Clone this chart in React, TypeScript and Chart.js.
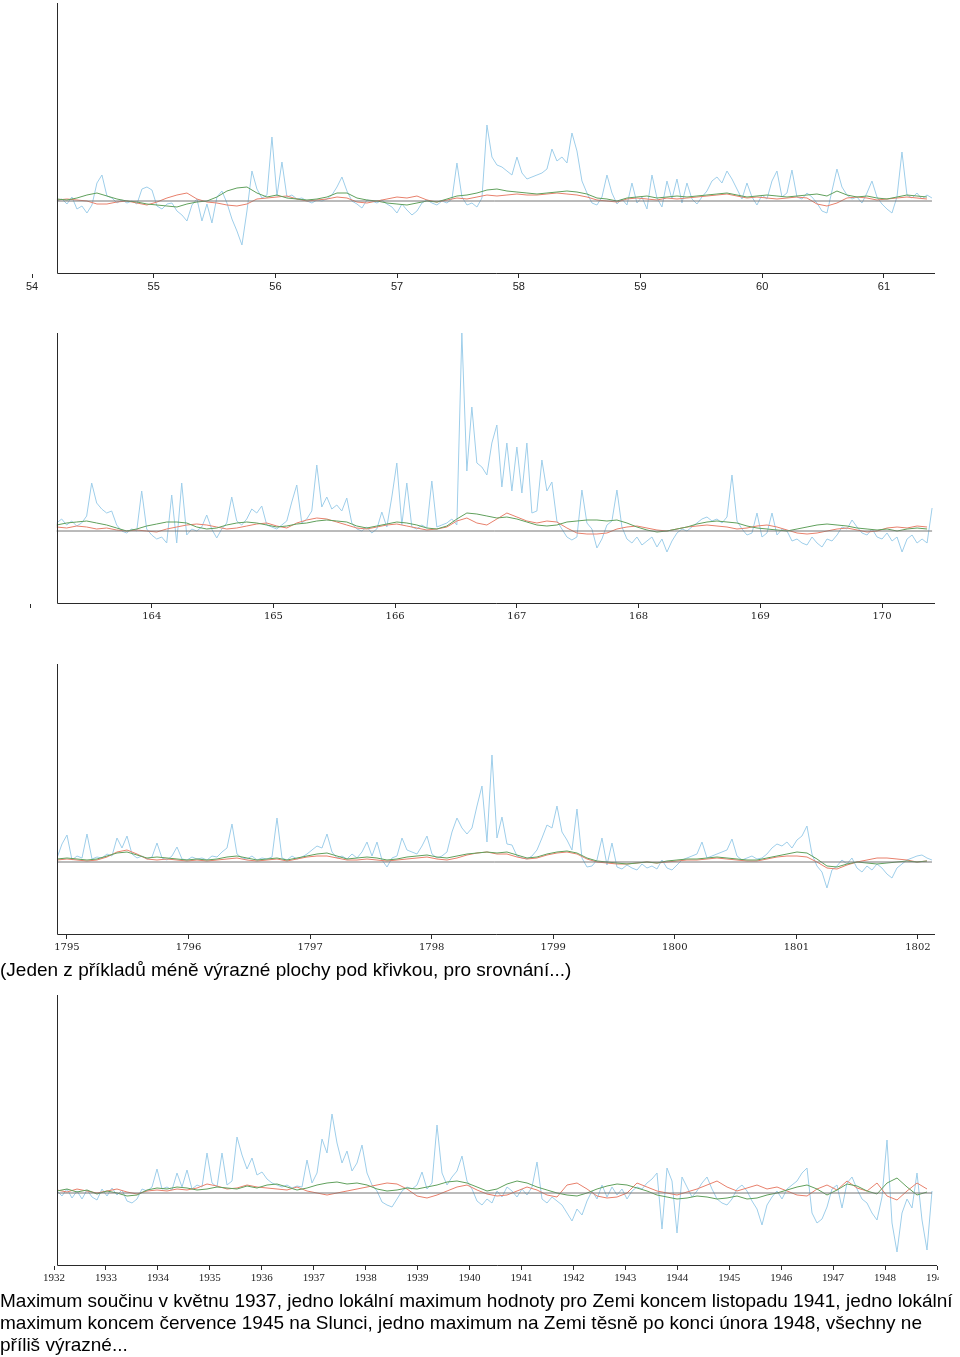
import React, { useEffect, useRef } from "react";
import { Chart, registerables } from "chart.js";

Chart.register(...registerables);

// ---------- Panel 1 (x axis 54 … 61) ----------
const P1_TICKS = [54, 55, 56, 57, 58, 59, 60, 61];
const P1_SPAN = [54.205, 61.395];
const P1_SMOOTH_SPAN = [54.205, 61.354];
const P1_BLUE = [
  0, 2, -3, 4, -8, -5, -12, -4, 18, 26,
  5, 3, -2, 1, -2, 0, -3, 12, 14, 11,
  -5, -8, -3, -2, -10, -14, -20, -4, 2, -20,
  -3, -22, 4, 10, -2, -18, -30, -44, -10, 30,
  12, 3, 6, 64, 5, 39, 4, 6, 2, 3,
  0, -2, 1, 0, 2, 6, 14, 24, 10, 0,
  -3, -7, 1, 0, -2, 1, -3, -6, -12, -3,
  -9, -14, -10, -2, 1, -2, -4, 0, -2, 2,
  38, 4, -4, -2, -6, 3, 76, 44, 36, 34,
  30, 26, 44, 28, 22, 24, 26, 28, 32, 52,
  40, 44, 38, 68, 50, 20, 8, -2, -4, 4,
  26, 8, -3, 2, -4, 18, -2, 4, -8, 26,
  3, -6, 20, 2, 22, -2, 18, 2, -3, 4,
  10, 20, 24, 18, 30, 22, 12, 2, 18, 4,
  -4, 6, 2, 20, 30, 4, 8, 31, 4, 2,
  8, 4, -2, -10, -12, 10, 32, 14, 6, 2,
  4, -2, 8, 20, 4, -3, -8, -12, 4, 49,
  6, 3, 8, 2, 6, 3,
];
const P1_GREEN = [
  2, 1, 3, 6, 8, 5, 2, 0, -1, -3,
  -4, -5, -6, -3, -1, 0, 4, 10, 13, 14,
  8, 4, 6, 3, 2, 1, 2, 4, 8, 8,
  3, 1, 0, -2, -3, -4, -2, 0, -1, 2,
  5, 6, 8, 11, 12, 10, 9, 8, 7, 8,
  9, 10, 9, 7, 3, 2, 0, 3, 4, 5,
  3, 4, 5, 4, 5, 6, 7, 8, 6, 4,
  5, 6, 5, 4, 5, 6, 7, 5, 10, 6,
  4, 5, 3, 2, 4, 6, 5, 4,
];
const P1_RED = [
  1, 2, 1, 0, -3, -3, -1, 0, -2, -4,
  -1, 3, 6, 8, 2, -1, -2, -4, -5, -3,
  2, 3, 4, 5, 2, 0, 1, 2, 4, 3,
  -1, -2, 0, 2, 4, 3, 5, 1, -1, 1,
  3, 2, 4, 6, 5, 6, 7, 6, 6, 7,
  8, 7, 6, 4, 1, 0, -1, 2, 3, 2,
  1, 3, 2, 3, 4, 5, 6, 7, 5, 3,
  4, 3, 2, 3, 4, 3, -3, -5, -2, 3,
  4, 3, 1, 2, 3, 4, 3, 2,
];

// ---------- Panel 2 (x axis 163 … 170) ----------
const P2_TICKS = [163, 164, 165, 166, 167, 168, 169, 170];
const P2_HIDDEN = [163];
const P2_SPAN = [163.219, 170.411];
const P2_SMOOTH_SPAN = [163.219, 170.37];
const P2_BLUE = [
  8, 12, 6, 10, 5, 8, 15, 48, 28, 22,
  18, 20, 6, 0, -2, 2, 0, 40, 2, -4,
  -8, -6, -12, 36, -12, 48, -4, 2, 0, 4,
  16, 2, -7, 2, 8, 34, 10, 6, 12, 22,
  18, 25, 6, 4, 2, 6, 10, 29, 46, 8,
  12, 20, 66, 24, 34, 22, 26, 20, 33, 8,
  2, 0, 4, -2, 2, 19, 4, 34, 68, 6,
  48, 4, 2, 6, 3, 50, 4, 6, 8, 12,
  6, 198, 60, 124, 68, 64, 56, 88, 106, 44,
  88, 40, 84, 38, 88, 18, 20, 71, 40, 49,
  10, 2, -6, -9, -6, 41, 8, 2, -17, -8,
  6, 10, 41, 4, -8, -12, -6, -14, -10, -6,
  -16, -8, -21, -10, -2, 2, 0, 4, 8, 12,
  14, 10, 12, 8, 14, 56, 10, 2, -4, -2,
  18, -6, -2, 18, -4, 2, 0, -10, -8, -12,
  -14, -6, -12, -16, -8, -10, -4, 4, 2, 11,
  4, -2, -4, 2, -6, -8, -2, -10, -6, -21,
  -8, -4, -12, -8, -12, 23,
];
const P2_GREEN = [
  6, 8, 9, 10, 8, 6, 3, 0, 2, 5,
  7, 9, 9, 8, 4, 2, 3, 6, 8, 9,
  8, 6, 4, 5, 7, 8, 10, 11, 10, 9,
  5, 3, 5, 7, 9, 8, 6, 3, 2, 5,
  12, 18, 17, 15, 13, 14, 12, 9, 6, 5,
  6, 9, 10, 11, 11, 10, 11, 8, 4, 1,
  -1, 0, 2, 4, 7, 9, 10, 9, 8, 5,
  3, 2, 1, 0, 2, 4, 6, 7, 6, 5,
  3, 2, 1, 2, 0, 2, 3, 2,
];
const P2_RED = [
  4, 3, 5, 4, 2, 3, 1, 0, 1, 0,
  -1, 2, 4, 6, 7, 6, 4, 2, 3, 5,
  7, 8, 5, 3, 8, 11, 13, 12, 9, 6,
  3, 2, 4, 6, 7, 5, 3, 1, 2, 4,
  10, 13, 8, 6, 12, 18, 14, 10, 8, 10,
  9, 3, -2, -3, -3, -2, 2, 4, 5, 3,
  1, 0, 2, 4, 5, 6, 5, 4, 2, 3,
  5, 6, 4, 1, -2, -3, -2, 0, 2, 3,
  1, -1, 0, 3, 4, 3, 5, 4,
];

// ---------- Panel 3 (x axis 1795 … 1802) ----------
const P3_TICKS = [1795, 1796, 1797, 1798, 1799, 1800, 1801, 1802];
const P3_SPAN = [1794.918, 1802.115];
const P3_SMOOTH_SPAN = [1794.918, 1802.074];
const P3_BLUE = [
  4, 18, 27, 2, 6, 4, 28, 3, 5, 4,
  8, 6, 24, 14, 26, 8, 4, 6, 3, 5,
  19, 4, 2, 6, 15, 3, 2, 5, 3, 4,
  2, 6, 5, 10, 14, 38, 8, 4, 3, 6,
  2, 4, 3, 5, 44, 4, 2, 6, 3, 5,
  8, 12, 16, 14, 28, 10, 4, 6, 3, 8,
  4, 10, 20, 6, 20, 2, -5, 4, 6, 24,
  12, 10, 8, 16, 26, 8, 4, 6, 10, 30,
  44, 34, 28, 34, 56, 76, 20, 107, 24, 45,
  18, 17, 6, 4, 3, 6, 12, 24, 37, 34,
  56, 30, 22, 12, 53, 4, -5, -4, 2, 24,
  -3, 19, -5, -7, -3, -6, -8, -2, -6, -4,
  -7, 2, -6, -8, -3, 2, 4, 6, 8, 20,
  4, 6, 8, 10, 12, 23, 6, 2, 4, 6,
  3, 4, 8, 14, 18, 16, 20, 14, 22, 26,
  36, 8, -4, -10, -26, -8, -4, 2, -2, 4,
  -6, -10, -4, -8, -2, -6, -12, -16, -6, -2,
  2, 4, 6, 7, 4, 2,
];
const P3_GREEN = [
  3, 4, 3, 2, 3, 6, 9, 10, 7, 4,
  5, 4, 3, 2, 3, 2, 3, 5, 6, 4,
  2, 3, 4, 2, 4, 6, 8, 9, 6, 3,
  4, 5, 4, 2, 3, 5, 6, 7, 5, 4,
  6, 8, 9, 10, 9, 10, 7, 4, 5, 8,
  10, 11, 9, 4, 1, 0, -1, -2, -1, 0,
  -1, 1, 2, 3, 3, 4, 5, 4, 3, 2,
  2, 4, 6, 8, 10, 9, 3, -4, -5, -2,
  0, -1, -2, -1, 0, 1, 0, 1,
];
const P3_RED = [
  2, 3, 2, 1, 2, 5, 10, 12, 8, 3,
  2, 3, 2, 1, 2, 1, 2, 3, 4, 2,
  1, 2, 3, 1, 3, 5, 6, 6, 4, 2,
  2, 3, 2, 1, 2, 3, 4, 5, 3, 2,
  4, 7, 9, 10, 8, 8, 5, 3, 4, 7,
  9, 10, 8, 3, 0, -1, -2, -2, -1, 0,
  -1, 0, 1, 2, 2, 3, 4, 3, 2, 1,
  1, 3, 5, 6, 6, 5, 0, -6, -7, -3,
  0, 2, 4, 4, 3, 2, 0, 1,
];

// ---------- Panel 4 (x axis 1932 … 1949) ----------
const P4_TICKS = [1932, 1933, 1934, 1935, 1936, 1937, 1938, 1939, 1940, 1941, 1942, 1943, 1944, 1945, 1946, 1947, 1948, 1949];
const P4_SPAN = [1932.058, 1948.904];
const P4_SMOOTH_SPAN = [1932.058, 1948.808];
const P4_BLUE = [
  2, -3, 4, -5, 2, -6, 3, -4, -7, 4,
  -3, 5, -2, 3, -8, -10, -6, 4, 2, 6,
  24, 4, 6, 3, 20, 6, 23, 4, 8, 6,
  40, 10, 6, 40, 8, 12, 56, 38, 24, 35,
  18, 21, 14, 10, 8, 6, 8, 5, 7, 6,
  33, 10, 20, 54, 40, 79, 50, 30, 42, 22,
  30, 48, 20, 8, 2, -9, -12, -14, -6, 2,
  6, 4, 8, 21, 4, 10, 68, 20, 8, 16,
  22, 37, 12, 4, -8, -12, -6, -10, 2, -4,
  6, 2, -4, 4, -2, 6, 31, -6, -10, -4,
  -8, -12, -20, -28, -16, -22, -8, 2, -6, 8,
  -4, 6, -2, 4, -6, 2, 6, 4, 10, 14,
  20, -36, 25, 12, -40, 16, 6, -4, 2, 10,
  16, 4, -6, -10, -12, -6, 4, 8, 2, -8,
  -16, -32, -12, -4, 2, -6, 4, 8, 12, 20,
  25, -20, -30, -26, -14, 4, 8, -15, 10, 16,
  4, -6, -10, -20, -27, -4, 53, -30, -59, -20,
  -6, -15, 20, -27, -57, 2,
];
const P4_GREEN = [
  2, 4, 1, 3, -1, 2, 0, -3, -2, 3,
  5, 4, 6, 5, 3, 4, 6, 5, 4, 7,
  5, 8, 9, 6, 3, 5, 8, 10, 11, 9,
  10, 8, 4, 2, 3, 5, 4, 6, 8, 11,
  12, 10, 6, 2, 4, 9, 12, 10, 6, 3,
  0, -2, -3, 0, 4, 7, 9, 8, 5, 2,
  -2, -4, -6, -5, -3, -4, -6, -5, -3, -6,
  -5, -2, 0, 3, 6, 8, 4, -2, 3, 9,
  7, 2, -1, 10, 15, 6, -2, 1,
];
const P4_RED = [
  3, 1, 4, 2, 0, 2, 4, 1, -1, 2,
  3, 2, 4, 3, 5, 9, 7, 4, 5, 8,
  6, 5, 4, 3, 6, 2, 0, -2, 0, 2,
  4, 6, 8, 10, 9, 4, -3, -5, -2, 2,
  6, 8, 3, -1, -3, -2, 2, 6, 3, -2,
  -4, 8, 10, 4, -3, -5, -4, 0, 10, 6,
  2, 0, -2, 1, 4, 8, 12, 6, 2, 5,
  8, 4, 6, 2, -2, -3, 4, 8, 3, 12,
  5, 2, 10, -3, -7, 2, 10, 4,
];

const BASELINE_VALUE = 0;
const Y_MIN = -73;
const Y_MAX = 198;

const CAPTION_1 = "(Jeden z příkladů méně výrazné plochy pod křivkou, pro srovnání...)";
const CAPTION_2 = [
  "Maximum součinu v květnu 1937, jedno lokální maximum hodnoty pro Zemi koncem listopadu 1941, jedno lokální",
  "maximum koncem července 1945 na Slunci, jedno maximum na Zemi těsně po konci února 1948, všechny ne",
  "příliš výrazné...",
];

const BLUE = "rgb(158,206,234)";
const GREEN = "rgb(96,160,92)";
const RED = "rgb(232,128,108)";
const GRAY = "rgb(118,118,118)";
const AXIS = "#2a2a2a";

const SANS = '"Liberation Sans", Arial, sans-serif';
const SERIF = '"DejaVu Serif", serif';
const NARROW = '"Liberation Serif", serif';

type Panel = {
  top: number;
  ticks: number[];
  hidden: number[];
  min: number;
  max: number;
  padLeft: number;
  right: number;
  clip: number;
  font: { family: string; size: number };
  blue: number[];
  green: number[];
  red: number[];
  span: number[];
  smoothSpan: number[];
};

const PANELS: Panel[] = [
  { top: 0, ticks: P1_TICKS, hidden: [], min: 54, max: 61.42, padLeft: 32, right: 935, clip: 960,
    font: { family: SANS, size: 11 }, blue: P1_BLUE, green: P1_GREEN, red: P1_RED, span: P1_SPAN, smoothSpan: P1_SMOOTH_SPAN },
  { top: 330, ticks: P2_TICKS, hidden: P2_HIDDEN, min: 163, max: 170.435, padLeft: 30, right: 935, clip: 960,
    font: { family: SERIF, size: 10 }, blue: P2_BLUE, green: P2_GREEN, red: P2_RED, span: P2_SPAN, smoothSpan: P2_SMOOTH_SPAN },
  { top: 661, ticks: P3_TICKS, hidden: [], min: 1794.918, max: 1802.14, padLeft: 57, right: 935, clip: 960,
    font: { family: SERIF, size: 10 }, blue: P3_BLUE, green: P3_GREEN, red: P3_RED, span: P3_SPAN, smoothSpan: P3_SMOOTH_SPAN },
  { top: 992, ticks: P4_TICKS, hidden: [], min: 1932, max: 1949, padLeft: 54, right: 937, clip: 939,
    font: { family: NARROW, size: 11 }, blue: P4_BLUE, green: P4_GREEN, red: P4_RED, span: P4_SPAN, smoothSpan: P4_SMOOTH_SPAN },
];

function toPoints(values: number[], span: number[]) {
  const n = values.length;
  return values.map((v, i) => ({ x: span[0] + (i * (span[1] - span[0])) / (n - 1), y: v }));
}

const axisPlugin = {
  id: "axisL",
  afterDatasetsDraw(chart: any, _args: any, opts: any) {
    const { ctx, chartArea, scales } = chart;
    const px = Math.round(scales.x.getPixelForValue(opts.axisAt)) + 0.5;
    const by = Math.round(chartArea.bottom) - 0.5;
    ctx.save();
    ctx.strokeStyle = AXIS;
    ctx.lineWidth = 1;
    ctx.beginPath();
    ctx.moveTo(px, chartArea.top);
    ctx.lineTo(px, by);
    ctx.lineTo(chartArea.right, by);
    ctx.stroke();
    ctx.restore();
  },
};

function makeConfig(p: Panel): any {
  const line = (data: any[], color: string, order: number) => ({
    data,
    borderColor: color,
    borderWidth: 1,
    pointRadius: 0,
    tension: 0,
    fill: false,
    order,
  });
  return {
    type: "line",
    data: {
      datasets: [
        line(toPoints([BASELINE_VALUE, BASELINE_VALUE], p.span), GRAY, 0),
        line(toPoints(p.green, p.smoothSpan), GREEN, 1),
        line(toPoints(p.red, p.smoothSpan), RED, 2),
        line(toPoints(p.blue, p.span), BLUE, 3),
      ],
    },
    options: {
      responsive: false,
      animation: false,
      devicePixelRatio: 1,
      layout: { padding: { left: p.padLeft, right: 960 - p.right, top: 3, bottom: 0 } },
      plugins: {
        legend: { display: false },
        tooltip: { enabled: false },
        axisL: { axisAt: p.span[0] },
      },
      scales: {
        x: {
          type: "linear",
          min: p.min,
          max: p.max,
          afterBuildTicks: (s: any) => {
            s.ticks = p.ticks.map((v) => ({ value: v }));
          },
          afterFit: (s: any) => {
            s.height = 26;
          },
          grid: { drawOnChartArea: false, drawTicks: true, tickLength: 4, color: AXIS },
          border: { display: false },
          ticks: {
            autoSkip: false,
            maxRotation: 0,
            minRotation: 0,
            padding: 2,
            color: "#222",
            font: p.font,
            callback: (v: any) => (p.hidden.includes(v) ? "" : String(v)),
          },
        },
        y: { display: false, min: Y_MIN, max: Y_MAX },
      },
    },
    plugins: [axisPlugin],
  };
}

export default function App() {
  const canvases = useRef<(HTMLCanvasElement | null)[]>([]);

  useEffect(() => {
    const charts = PANELS.map((p, i) => new Chart(canvases.current[i] as HTMLCanvasElement, makeConfig(p)));
    return () => charts.forEach((c) => c.destroy());
  }, []);

  const textStyle: React.CSSProperties = {
    position: "absolute",
    left: 0,
    fontFamily: SANS,
    fontSize: 19,
    lineHeight: "22px",
    color: "#000",
    whiteSpace: "nowrap",
  };

  return (
    <div style={{ position: "relative", width: 960, height: 1357, background: "#fff", overflow: "hidden" }}>
      <style>{"body{margin:0;background:#fff}"}</style>
      {PANELS.map((p, i) => (
        <div
          key={i}
          style={{ position: "absolute", left: 0, top: p.top, width: p.clip, height: 300, overflow: "hidden" }}
        >
          <canvas
            ref={(el) => {
              canvases.current[i] = el;
            }}
            width={960}
            height={300}
            style={{ display: "block", width: 960, height: 300 }}
          />
        </div>
      ))}
      <div style={{ ...textStyle, top: 959 }}>{CAPTION_1}</div>
      <div style={{ ...textStyle, top: 1290 }}>
        {CAPTION_2.map((l) => (
          <div key={l}>{l}</div>
        ))}
      </div>
    </div>
  );
}
